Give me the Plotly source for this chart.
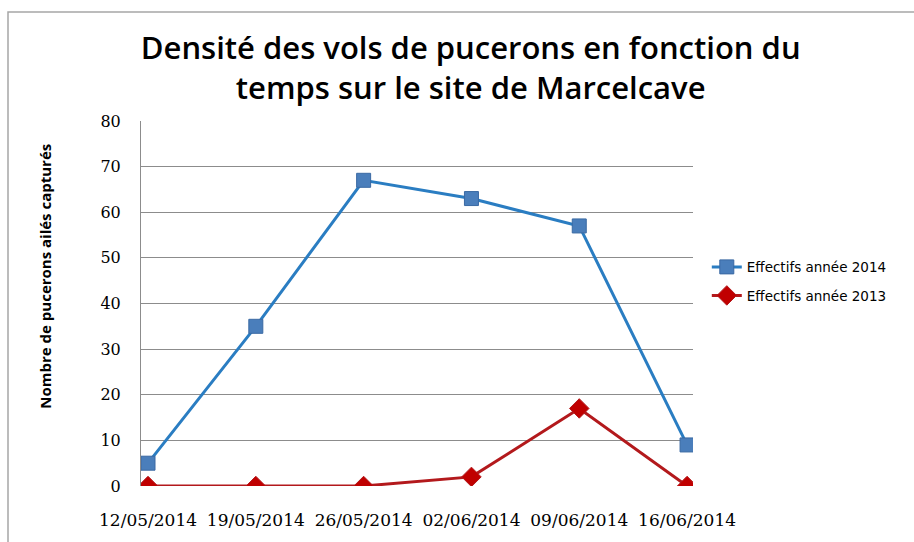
import plotly.graph_objects as go

dates = ["12/05/2014", "19/05/2014", "26/05/2014", "02/06/2014", "09/06/2014", "16/06/2014"]
effectifs_2014 = [5, 35, 67, 63, 57, 9]
effectifs_2013 = [0, 0, 0, 2, 17, 0]
y_ticks = [0, 10, 20, 30, 40, 50, 60, 70, 80]

title_text = "Densité des vols de pucerons en fonction du<br>temps sur le site de Marcelcave"
y_title = "Nombre de pucerons ailés capturés"

fig = go.Figure()
fig.add_trace(go.Scatter(
    x=dates, y=effectifs_2014, mode="lines+markers", name="Effectifs année 2014",
    legendgroup="a",
    line=dict(color="#2a7dc2", width=3),
    marker=dict(symbol="square", size=14, color="#4a7ebb", line=dict(color="#3a69a3", width=1)),
))
fig.add_trace(go.Scatter(
    x=dates, y=effectifs_2013, mode="lines+markers", name="Effectifs année 2013",
    legendgroup="b",
    line=dict(color="#b3191c", width=3),
    marker=dict(symbol="diamond", size=15, color="#c00000", line=dict(color="#b3191c", width=1)),
))

fig.update_layout(
    width=914, height=542,
    margin=dict(l=141, r=221, t=121, b=51),
    paper_bgcolor="white", plot_bgcolor="white",
    title=dict(text=title_text, x=0.515, xanchor="center", xref="container",
               y=1 - 59 / 542, yref="container", yanchor="top",
               font=dict(family="Open Sans", size=31, color="#000000", weight=600)),
    showlegend=True,
    legend=dict(x=1.025, xanchor="left", y=0.56, yanchor="middle",
                font=dict(family="DejaVu Sans", size=13.5, color="#000000"),
                tracegroupgap=8, bgcolor="rgba(0,0,0,0)"),
    xaxis=dict(type="category", range=[-0.065, 5.055], showgrid=False, zeroline=False,
               showline=False, ticks="", ticklabelstandoff=22,
               tickfont=dict(family="DejaVu Serif", size=17, color="#000000")),
    yaxis=dict(range=[0, 80], tickvals=y_ticks, showgrid=True, gridcolor="#8c8c8c", gridwidth=1,
               zeroline=False, showline=True, linecolor="#8c8c8c", linewidth=1,
               ticks="", ticklabelstandoff=16,
               tickfont=dict(family="DejaVu Serif", size=16, color="#000000")),
    annotations=[dict(text="<b>" + y_title + "</b>", textangle=-90, xref="paper", yref="paper",
                      x=-0.174, y=0.576, xanchor="center", yanchor="middle", showarrow=False,
                      font=dict(family="Open Sans", size=15, color="#000000"))],
    shapes=[dict(type="rect", xref="paper", yref="paper",
                 x0=(8 - 141) / 552, x1=(930 - 141) / 552,
                 y0=(489 - 560) / 368, y1=(489 - 11) / 368,
                 line=dict(color="#a6a6a6", width=1.5), layer="below")],
)

fig.write_html("out.html", config={"displayModeBar": False},
               post_script="document.body.style.margin='0';document.body.style.padding='0';")
